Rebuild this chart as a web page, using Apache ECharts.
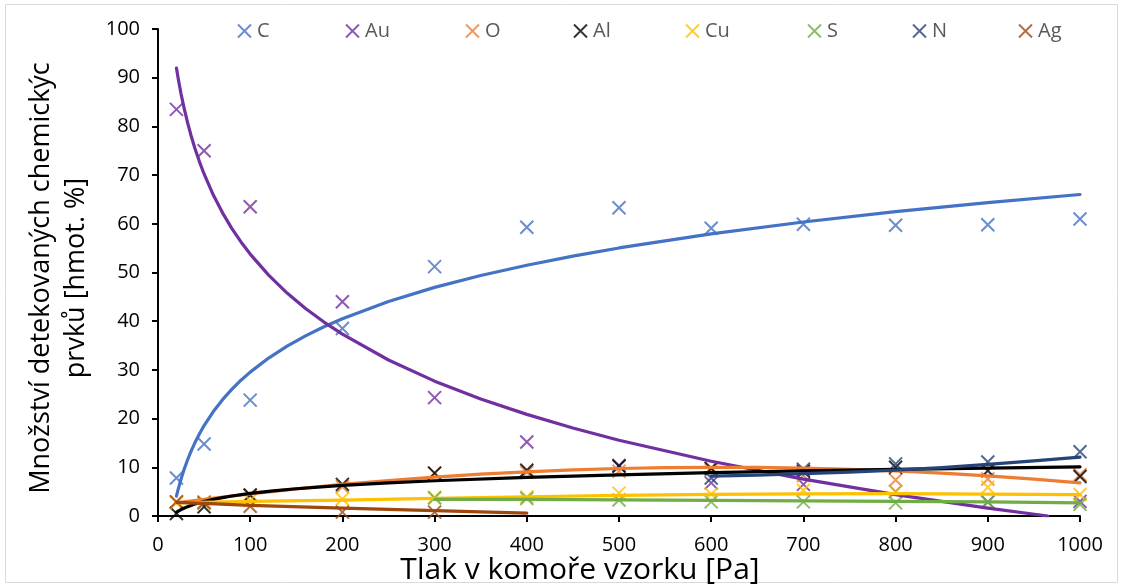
<!DOCTYPE html>
<html><head><meta charset="utf-8">
<script src="https://cdn.jsdelivr.net/npm/echarts@6/dist/echarts.min.js"></script>
<style>html,body{margin:0;padding:0;background:#fff}#c{width:1123px;height:587px}</style>
</head><body><div id="c"></div>
<script>
// measured data (x = pressure in Pa)
const pressures = [20, 50, 100, 200, 300, 400, 500, 600, 700, 800, 900, 1000];
const elements = ['C', 'Au', 'O', 'Al', 'Cu', 'S', 'N', 'Ag'];
const colors = ['#4472C4', '#7030A0', '#ED7D31', '#000000', '#FFC000', '#70AD47', '#264478', '#9E480E'];

const valC  = [7.8, 14.8, 23.8, 38.5, 51.2, 59.3, 63.3, 59.1, 59.9, 59.7, 59.8, 61.0];
const valAu = [83.5, 75.0, 63.5, 44.0, 24.3, 15.2, 10.4, 6.8, 6.5, 5.0, 2.9, 3.0];
const valO  = [2.9, 2.9, 4.2, 6.0, 8.8, 9.0, 9.2, 9.5, 8.3, 7.4, 7.6, 8.5];
const valAl = [0.5, 1.9, 4.3, 6.5, 8.8, 9.4, 10.2, 9.8, 9.2, 10.0, 9.3, 8.1];
const valCu = [2.7, 2.7, 3.2, 3.5, 3.8, 3.9, 4.7, 4.5, 5.3, 5.0, 5.9, 4.4];
const valS  = [null, null, null, null, 3.7, 3.6, 3.3, 2.9, 2.9, 2.7, 2.8, 2.4];
const valN  = [null, null, null, null, null, null, null, 7.8, 9.6, 10.7, 11.1, 13.2];
const valAg = [2.9, 2.7, 2.0, 0.8, 0.8, null, null, null, null, null, null, null];

// trend lines: [x, y]
const trendC  = [[20,4.06],[22,5.56],[25,7.59],[28,9.38],[32,11.5],[36,13.37],[40,15.03],[45,16.9],[50,18.57],[60,21.45],[70,23.89],[80,26.01],[90,27.88],[100,29.54],[120,32.43],[140,34.88],[160,36.99],[180,38.86],[200,40.52],[250,44.06],[300,46.95],[350,49.39],[400,51.5],[450,53.37],[500,55.04],[600,57.93],[700,60.37],[800,62.49],[900,64.34],[1000,66.02]];
const trendAu = [[20,91.97],[22,89.72],[25,86.68],[28,84.0],[32,80.82],[36,78.02],[40,75.52],[45,72.72],[50,70.23],[60,65.91],[70,62.25],[80,59.07],[90,56.27],[100,53.78],[120,49.46],[140,45.78],[160,42.62],[180,39.82],[200,37.33],[250,32.03],[300,27.69],[350,24.03],[400,20.87],[450,18.07],[500,15.56],[600,11.24],[700,7.58],[800,4.4],[900,1.62],[965,0.0]];
const trendO  = [[20,2.7],[50,3.42],[100,4.55],[150,5.56],[200,6.48],[250,7.29],[300,7.99],[350,8.59],[400,9.08],[450,9.47],[500,9.75],[550,9.93],[600,10.0],[650,9.97],[700,9.83],[750,9.59],[800,9.24],[850,8.79],[900,8.23],[950,7.57],[1000,6.8]];
const trendAl = [[20,0.8],[25,1.33],[30,1.76],[40,2.45],[50,2.98],[60,3.41],[70,3.78],[80,4.1],[100,4.63],[125,5.16],[150,5.59],[200,6.27],[250,6.8],[300,7.24],[400,7.92],[500,8.45],[600,8.89],[700,9.25],[800,9.57],[900,9.85],[1000,10.1]];
const trendCu = [[20,2.7],[100,3.0],[200,3.25],[300,3.6],[400,3.95],[500,4.25],[600,4.45],[700,4.55],[800,4.6],[900,4.5],[1000,4.4]];
const trendS  = [[300,3.4],[400,3.4],[500,3.3],[600,3.2],[700,3.1],[800,3.0],[900,2.9],[1000,2.7]];
const trendN  = [[600,8.2],[650,8.4],[700,8.7],[750,9.0],[800,9.4],[850,9.95],[900,10.6],[950,11.3],[1000,12.1]];
const trendAg = [[20,2.8],[50,2.6],[100,2.2],[200,1.6],[300,1.1],[400,0.6]];

const xTicks = [0, 100, 200, 300, 400, 500, 600, 700, 800, 900, 1000];
const yTicks = [0, 10, 20, 30, 40, 50, 60, 70, 80, 90, 100];

const values = [valC, valAu, valO, valAl, valCu, valS, valN, valAg];
const trends = [trendC, trendAu, trendO, trendAl, trendCu, trendS, trendN, trendAg];

const FONT = 'Open Sans';
const xPath = 'path://M0,0L10,10M10,0L0,10';
const legendLeft = [232, 340, 460, 568, 680, 802, 907, 1013];

const series = [];
elements.forEach((el, i) => {
  series.push({
    name: el, type: 'scatter', symbol: xPath, symbolSize: 13,
    itemStyle: { color: 'rgba(0,0,0,0)', borderColor: colors[i], borderWidth: 2 },
    data: pressures.map((p, k) => values[i][k] == null ? null : [p, values[i][k]]).filter(d => d),
    z: 2
  });
});
elements.forEach((el, i) => {
  series.push({
    name: el + ' trend', type: 'line', smooth: false, showSymbol: false,
    lineStyle: { color: colors[i], width: 3.2, cap: 'round', join: 'round' }, itemStyle: { color: colors[i] },
    data: trends[i], z: 3, silent: true
  });
});

const legends = elements.map((el, i) => ({
  data: [{ name: el, icon: xPath }],
  left: legendLeft[i], top: 16, itemWidth: 13, itemHeight: 13, itemGap: 0,
  selectedMode: false,
  textStyle: { fontFamily: FONT, fontSize: 20, color: '#595959', padding: [0, 0, 0, 1] }
}));

const chart = echarts.init(document.getElementById('c'), null, { renderer: 'canvas' });
chart.setOption({
  animation: false,
  backgroundColor: '#fff',
  grid: { left: 158, right: 43, top: 29, bottom: 71, containLabel: false },
  legend: legends,
  xAxis: {
    type: 'value', min: xTicks[0], max: xTicks[xTicks.length - 1], interval: 100,
    axisLine: { lineStyle: { color: '#000', width: 2 } },
    axisTick: { length: 6, lineStyle: { color: '#000', width: 2 } },
    axisLabel: { fontFamily: FONT, fontSize: 20, color: '#000', margin: 19, formatter: v => String(v) },
    splitLine: { show: false }
  },
  yAxis: {
    type: 'value', min: yTicks[0], max: yTicks[yTicks.length - 1], interval: 10,
    axisLine: { show: true, lineStyle: { color: '#000', width: 2 } },
    axisTick: { show: true, length: 6, lineStyle: { color: '#000', width: 2 } },
    axisLabel: { fontFamily: FONT, fontSize: 20, color: '#000', margin: 18, formatter: v => String(v) },
    splitLine: { show: false }
  },
  graphic: [
    { type: 'rect', shape: { x: 5.5, y: 4.5, width: 1112, height: 578 }, style: { fill: 'none', stroke: '#d9d9d9', lineWidth: 1 }, silent: true },
    { type: 'text', x: 41, y: 278, rotation: Math.PI / 2, style: { text: 'Množství detekovaných chemickýc', fontFamily: FONT, fontSize: 27, fill: '#000', align: 'center', verticalAlign: 'middle' } },
    { type: 'text', x: 76, y: 278, rotation: Math.PI / 2, style: { text: 'prvků [hmot. %]', fontFamily: FONT, fontSize: 27, fill: '#000', align: 'center', verticalAlign: 'middle' } },
    { type: 'text', x: 580, y: 570, style: { text: 'Tlak v komoře vzorku [Pa]', fontFamily: FONT, fontSize: 30, fill: '#000', align: 'center', verticalAlign: 'middle' } }
  ],
  series: series
});
</script>
</body></html>
